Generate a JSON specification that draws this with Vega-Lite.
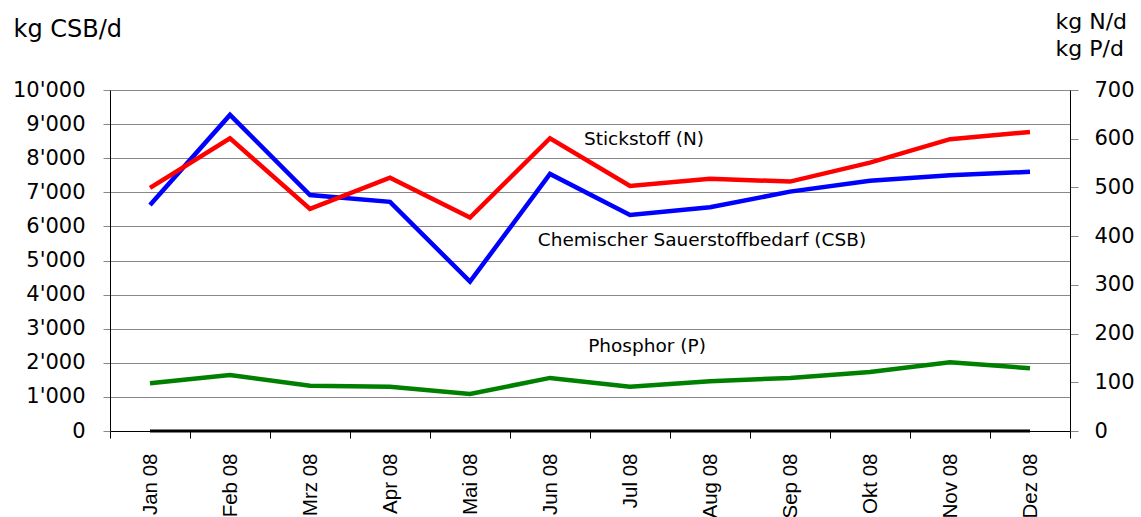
{
  "$schema": "https://vega.github.io/schema/vega-lite/v6.json",
  "width": 960,
  "height": 341,
  "autosize": {"type": "none"},
  "padding": {"left": 110, "top": 90, "right": 71, "bottom": 86},
  "background": "white",
  "config": {"view": {"stroke": null}, "font": "DejaVu Sans"},
  "data": {
    "values": [
      {"month": "Jan 08", "series": "CSB", "value": 6630},
      {"month": "Feb 08", "series": "CSB", "value": 9270},
      {"month": "Mrz 08", "series": "CSB", "value": 6920},
      {"month": "Apr 08", "series": "CSB", "value": 6720},
      {"month": "Mai 08", "series": "CSB", "value": 4380},
      {"month": "Jun 08", "series": "CSB", "value": 7540},
      {"month": "Jul 08", "series": "CSB", "value": 6335},
      {"month": "Aug 08", "series": "CSB", "value": 6560},
      {"month": "Sep 08", "series": "CSB", "value": 7020},
      {"month": "Okt 08", "series": "CSB", "value": 7340},
      {"month": "Nov 08", "series": "CSB", "value": 7500},
      {"month": "Dez 08", "series": "CSB", "value": 7600},
      {"month": "Jan 08", "series": "N", "value": 499},
      {"month": "Feb 08", "series": "N", "value": 601},
      {"month": "Mrz 08", "series": "N", "value": 456},
      {"month": "Apr 08", "series": "N", "value": 520},
      {"month": "Mai 08", "series": "N", "value": 438},
      {"month": "Jun 08", "series": "N", "value": 601},
      {"month": "Jul 08", "series": "N", "value": 503},
      {"month": "Aug 08", "series": "N", "value": 518},
      {"month": "Sep 08", "series": "N", "value": 512},
      {"month": "Okt 08", "series": "N", "value": 551},
      {"month": "Nov 08", "series": "N", "value": 599},
      {"month": "Dez 08", "series": "N", "value": 614},
      {"month": "Jan 08", "series": "P", "value": 98},
      {"month": "Feb 08", "series": "P", "value": 115},
      {"month": "Mrz 08", "series": "P", "value": 93},
      {"month": "Apr 08", "series": "P", "value": 91},
      {"month": "Mai 08", "series": "P", "value": 76},
      {"month": "Jun 08", "series": "P", "value": 109},
      {"month": "Jul 08", "series": "P", "value": 91},
      {"month": "Aug 08", "series": "P", "value": 102},
      {"month": "Sep 08", "series": "P", "value": 109},
      {"month": "Okt 08", "series": "P", "value": 121},
      {"month": "Nov 08", "series": "P", "value": 141},
      {"month": "Dez 08", "series": "P", "value": 129},
      {"month": "Jan 08", "series": "Zero", "value": 0},
      {"month": "Feb 08", "series": "Zero", "value": 0},
      {"month": "Mrz 08", "series": "Zero", "value": 0},
      {"month": "Apr 08", "series": "Zero", "value": 0},
      {"month": "Mai 08", "series": "Zero", "value": 0},
      {"month": "Jun 08", "series": "Zero", "value": 0},
      {"month": "Jul 08", "series": "Zero", "value": 0},
      {"month": "Aug 08", "series": "Zero", "value": 0},
      {"month": "Sep 08", "series": "Zero", "value": 0},
      {"month": "Okt 08", "series": "Zero", "value": 0},
      {"month": "Nov 08", "series": "Zero", "value": 0},
      {"month": "Dez 08", "series": "Zero", "value": 0}
    ]
  },
  "encoding": {
    "x": {
      "field": "month",
      "type": "ordinal",
      "sort": null,
      "scale": {
        "type": "band",
        "domain": ["Jan 08", "Feb 08", "Mrz 08", "Apr 08", "Mai 08", "Jun 08", "Jul 08", "Aug 08", "Sep 08", "Okt 08", "Nov 08", "Dez 08"],
        "paddingInner": 0,
        "paddingOuter": 0
      },
      "axis": {
        "title": null,
        "labelAngle": -90,
        "labelAlign": "right",
        "labelBaseline": "middle",
        "labelFont": "Liberation Sans",
        "labelFontSize": 20.5,
        "labelColor": "#000",
        "labelPadding": 15,
        "tickBand": "extent",
        "tickSize": 7,
        "tickColor": "#000",
        "domainColor": "#000",
        "grid": false
      }
    }
  },
  "layer": [
    {
      "encoding": {
        "y": {
          "field": "value",
          "type": "quantitative",
          "scale": {"domain": [0, 10000], "nice": false},
          "axis": {
            "values": [0, 1000, 2000, 3000, 4000, 5000, 6000, 7000, 8000, 9000, 10000],
            "labelOverlap": false,
            "labelExpr": "replace(format(datum.value, ','), ',', \"'\")",
            "labelFontSize": 21,
            "labelColor": "#000",
            "labelPadding": 18,
            "tickSize": 7,
            "tickColor": "#888",
            "domainColor": "#000",
            "grid": true,
            "gridColor": "#888",
            "title": "kg CSB/d",
            "titleAngle": 0,
            "titleAlign": "left",
            "titleBaseline": "alphabetic",
            "titleX": -97,
            "titleY": -54,
            "titleFontSize": 24,
            "titleFontWeight": "normal",
            "titleColor": "#000"
          }
        }
      },
      "layer": [
        {
          "transform": [{"filter": "datum.series === 'CSB'"}],
          "mark": {"type": "line", "color": "#0000ff", "strokeWidth": 4.5}
        },
        {
          "transform": [{"filter": "datum.series === 'Zero'"}],
          "mark": {"type": "line", "color": "#000", "strokeWidth": 3}
        },
        {
          "transform": [{"filter": "datum.series === 'N' && datum.month === 'Jul 08'"}],
          "mark": {"type": "text", "fontSize": 18.5, "color": "#000", "align": "center", "baseline": "middle", "dx": 14},
          "encoding": {
            "x": {"datum": "Jul 08", "type": "ordinal"},
            "y": {"datum": 8560, "type": "quantitative"},
            "text": {"value": "Stickstoff (N)"}
          }
        },
        {
          "transform": [{"filter": "datum.series === 'CSB' && datum.month === 'Aug 08'"}],
          "mark": {"type": "text", "fontSize": 18.5, "color": "#000", "align": "center", "baseline": "middle", "dx": -8},
          "encoding": {
            "x": {"datum": "Aug 08", "type": "ordinal"},
            "y": {"datum": 5600, "type": "quantitative"},
            "text": {"value": "Chemischer Sauerstoffbedarf (CSB)"}
          }
        },
        {
          "transform": [{"filter": "datum.series === 'P' && datum.month === 'Jul 08'"}],
          "mark": {"type": "text", "fontSize": 18.5, "color": "#000", "align": "center", "baseline": "middle", "dx": 17},
          "encoding": {
            "x": {"datum": "Jul 08", "type": "ordinal"},
            "y": {"datum": 2480, "type": "quantitative"},
            "text": {"value": "Phosphor (P)"}
          }
        }
      ]
    },
    {
      "transform": [{"filter": "datum.series === 'N' || datum.series === 'P'"}],
      "mark": {"type": "line", "strokeWidth": 4.5},
      "encoding": {
        "y": {
          "field": "value",
          "type": "quantitative",
          "scale": {"domain": [0, 700], "nice": false},
          "axis": {
            "orient": "right",
            "values": [0, 100, 200, 300, 400, 500, 600, 700],
            "labelOverlap": false,
            "labelFontSize": 21,
            "labelColor": "#000",
            "labelPadding": 16,
            "tickSize": 8,
            "tickColor": "#888",
            "domainColor": "#000",
            "grid": false,
            "title": ["kg N/d", "kg P/d"],
            "titleAngle": 0,
            "titleAlign": "left",
            "titleBaseline": "alphabetic",
            "titleX": -15,
            "titleY": -62,
            "titleFontSize": 22,
            "titleLineHeight": 27,
            "titleFontWeight": "normal",
            "titleColor": "#000"
          }
        },
        "color": {
          "field": "series",
          "type": "nominal",
          "scale": {"domain": ["N", "P"], "range": ["#ff0000", "#008000"]},
          "legend": null
        }
      }
    }
  ],
  "resolve": {"scale": {"y": "independent"}}
}
